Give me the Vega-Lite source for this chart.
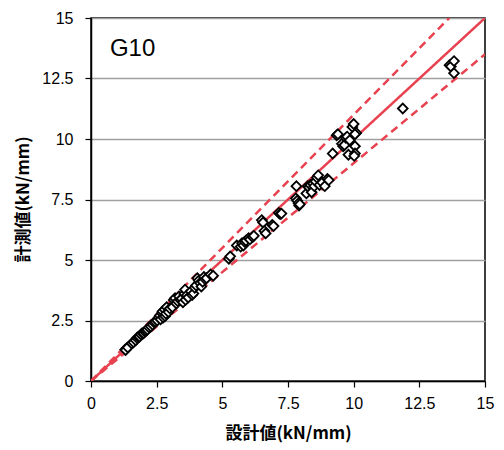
{
  "$schema": "https://vega.github.io/schema/vega-lite/v6.json",
  "width": 394,
  "height": 363,
  "autosize": {"type": "none"},
  "padding": {"left": 91, "top": 18, "right": 19, "bottom": 69},
  "background": "white",
  "config": {
    "view": {"stroke": "#000000", "strokeWidth": 1.5},
    "font": "Liberation Sans"
  },
  "datasets": {
    "pts": [
      {"d": 1.30, "m": 1.30}, {"d": 1.35, "m": 1.35}, {"d": 1.32, "m": 1.28}, {"d": 1.40, "m": 1.38},
      {"d": 1.55, "m": 1.55}, {"d": 1.62, "m": 1.60}, {"d": 1.70, "m": 1.68}, {"d": 1.75, "m": 1.78},
      {"d": 1.80, "m": 1.82}, {"d": 1.85, "m": 1.83}, {"d": 1.90, "m": 1.92}, {"d": 1.95, "m": 1.98},
      {"d": 2.00, "m": 1.97}, {"d": 2.05, "m": 2.04}, {"d": 2.10, "m": 2.08}, {"d": 2.15, "m": 2.12},
      {"d": 2.20, "m": 2.22}, {"d": 2.28, "m": 2.25}, {"d": 2.35, "m": 2.32}, {"d": 2.40, "m": 2.42},
      {"d": 2.45, "m": 2.45}, {"d": 2.52, "m": 2.50}, {"d": 2.58, "m": 2.62}, {"d": 2.62, "m": 2.70},
      {"d": 2.65, "m": 2.55}, {"d": 2.70, "m": 2.80}, {"d": 2.72, "m": 2.88}, {"d": 2.75, "m": 2.62},
      {"d": 2.80, "m": 2.95}, {"d": 2.82, "m": 2.68}, {"d": 2.85, "m": 2.78}, {"d": 2.88, "m": 3.05},
      {"d": 2.95, "m": 2.85}, {"d": 3.00, "m": 3.00}, {"d": 3.10, "m": 3.05}, {"d": 3.15, "m": 3.35},
      {"d": 3.20, "m": 3.42}, {"d": 3.25, "m": 3.20}, {"d": 3.30, "m": 3.30}, {"d": 3.35, "m": 3.50},
      {"d": 3.40, "m": 3.35}, {"d": 3.45, "m": 3.40}, {"d": 3.50, "m": 3.25}, {"d": 3.55, "m": 3.60},
      {"d": 3.58, "m": 3.78}, {"d": 3.60, "m": 3.35}, {"d": 3.65, "m": 3.55}, {"d": 3.70, "m": 3.45},
      {"d": 3.80, "m": 3.70}, {"d": 3.85, "m": 3.55}, {"d": 3.90, "m": 3.62}, {"d": 3.95, "m": 3.85},
      {"d": 4.00, "m": 3.95}, {"d": 4.05, "m": 4.25}, {"d": 4.10, "m": 4.15}, {"d": 4.15, "m": 4.05},
      {"d": 4.20, "m": 3.90}, {"d": 4.25, "m": 4.10}, {"d": 4.30, "m": 4.30}, {"d": 4.35, "m": 4.20},
      {"d": 4.40, "m": 4.25}, {"d": 4.55, "m": 4.40}, {"d": 4.65, "m": 4.35},
      {"d": 5.25, "m": 5.05}, {"d": 5.30, "m": 5.15}, {"d": 5.55, "m": 5.60}, {"d": 5.70, "m": 5.55},
      {"d": 5.75, "m": 5.70}, {"d": 5.80, "m": 5.60}, {"d": 5.85, "m": 5.75}, {"d": 5.90, "m": 5.80},
      {"d": 6.00, "m": 5.90}, {"d": 6.05, "m": 5.85}, {"d": 6.15, "m": 5.95}, {"d": 6.20, "m": 6.00},
      {"d": 6.50, "m": 6.65}, {"d": 6.55, "m": 6.55}, {"d": 6.60, "m": 6.20}, {"d": 6.65, "m": 6.10},
      {"d": 6.90, "m": 6.45}, {"d": 6.95, "m": 6.40}, {"d": 7.15, "m": 6.95}, {"d": 7.20, "m": 6.90},
      {"d": 7.25, "m": 6.92}, {"d": 7.80, "m": 7.55}, {"d": 7.82, "m": 8.05}, {"d": 7.85, "m": 7.45},
      {"d": 7.90, "m": 7.35}, {"d": 7.92, "m": 7.25}, {"d": 7.95, "m": 7.30}, {"d": 8.20, "m": 7.75},
      {"d": 8.25, "m": 8.05}, {"d": 8.30, "m": 8.00}, {"d": 8.35, "m": 8.10}, {"d": 8.40, "m": 7.80},
      {"d": 8.45, "m": 8.15}, {"d": 8.50, "m": 8.05}, {"d": 8.55, "m": 8.25}, {"d": 8.60, "m": 8.40},
      {"d": 8.65, "m": 8.50}, {"d": 8.70, "m": 8.10}, {"d": 8.80, "m": 8.20}, {"d": 8.90, "m": 8.05},
      {"d": 9.00, "m": 8.35}, {"d": 9.05, "m": 8.30},
      {"d": 9.20, "m": 9.40}, {"d": 9.35, "m": 10.15}, {"d": 9.40, "m": 10.20}, {"d": 9.55, "m": 9.80},
      {"d": 9.60, "m": 9.70}, {"d": 9.65, "m": 9.75}, {"d": 9.70, "m": 10.05}, {"d": 9.75, "m": 10.10},
      {"d": 9.80, "m": 9.35}, {"d": 9.85, "m": 9.95}, {"d": 9.95, "m": 10.50}, {"d": 10.00, "m": 10.62},
      {"d": 10.05, "m": 9.70}, {"d": 10.05, "m": 9.40}, {"d": 10.10, "m": 10.25}, {"d": 10.05, "m": 10.20},
      {"d": 10.02, "m": 9.30},
      {"d": 11.87, "m": 11.26}, {"d": 13.65, "m": 13.05}, {"d": 13.70, "m": 13.00},
      {"d": 13.82, "m": 13.22}, {"d": 13.82, "m": 12.72}
    ],
    "lines": [
      {"k": "1.0", "d": 0, "m": 0}, {"k": "1.0", "d": 15, "m": 15},
      {"k": "1.1", "d": 0, "m": 0}, {"k": "1.1", "d": 13.636, "m": 15},
      {"k": "0.9", "d": 0, "m": 0}, {"k": "0.9", "d": 15, "m": 13.5}
    ]
  },
  "layer": [
    {
      "data": {"name": "lines"},
      "mark": {"type": "line", "color": "#e8414f", "strokeWidth": 2.5, "clip": true},
      "encoding": {
        "x": {
          "field": "d", "type": "quantitative",
          "scale": {"domain": [0, 15], "nice": false},
          "axis": {
            "values": [0, 2.5, 5, 7.5, 10, 12.5, 15], "labelExpr": "datum.value + ''",
            "grid": false, "domainColor": "#000000", "domainWidth": 1.5,
            "tickColor": "#000000", "tickSize": 6, "tickWidth": 1.2,
            "labelFont": "Liberation Sans", "labelFontSize": 16, "labelColor": "#000000", "labelPadding": 8,
            "labelFlush": false,
            "title": "設計値(kN/mm)", "titleFont": "Noto Sans CJK JP", "titleFontSize": 17, "titleFontWeight": "bold",
            "titleColor": "#000000", "titleY": 52, "titleBaseline": "middle"
          }
        },
        "y": {
          "field": "m", "type": "quantitative",
          "scale": {"domain": [0, 15], "nice": false},
          "axis": {
            "values": [0, 2.5, 5, 7.5, 10, 12.5, 15], "labelExpr": "datum.value + ''",
            "grid": true, "gridColor": "#a0a0a0", "gridWidth": 1.5,
            "domainColor": "#000000", "domainWidth": 1.5,
            "tickColor": "#000000", "tickSize": 6, "tickWidth": 1.2,
            "labelFont": "Liberation Sans", "labelFontSize": 16, "labelColor": "#000000", "labelPadding": 12,
            "labelFlush": false,
            "title": "計測値(kN/mm)", "titleFont": "Noto Sans CJK JP", "titleFontSize": 17, "titleFontWeight": "bold",
            "titleColor": "#000000", "titleX": -68, "titleY": 181, "titleBaseline": "middle", "titleAngle": -90, "titleAlign": "center"
          }
        },
        "detail": {"field": "k"},
        "strokeDash": {
          "field": "k", "type": "nominal",
          "scale": {"domain": ["1.0", "1.1", "0.9"], "range": [[1, 0], [8, 5], [8, 5]]},
          "legend": null
        }
      }
    },
    {
      "data": {"name": "pts"},
      "mark": {"type": "point", "shape": "diamond", "filled": false, "fill": "white", "stroke": "black", "strokeWidth": 1.8, "size": 95, "opacity": 1},
      "encoding": {
        "x": {"field": "d", "type": "quantitative"},
        "y": {"field": "m", "type": "quantitative"}
      }
    },
    {
      "data": {"values": [{"t": "G10"}]},
      "mark": {"type": "text", "align": "left", "baseline": "middle", "font": "Liberation Sans", "fontSize": 24, "color": "#000000"},
      "encoding": {
        "x": {"datum": 0.72},
        "y": {"datum": 13.7},
        "text": {"field": "t"}
      }
    }
  ]
}
